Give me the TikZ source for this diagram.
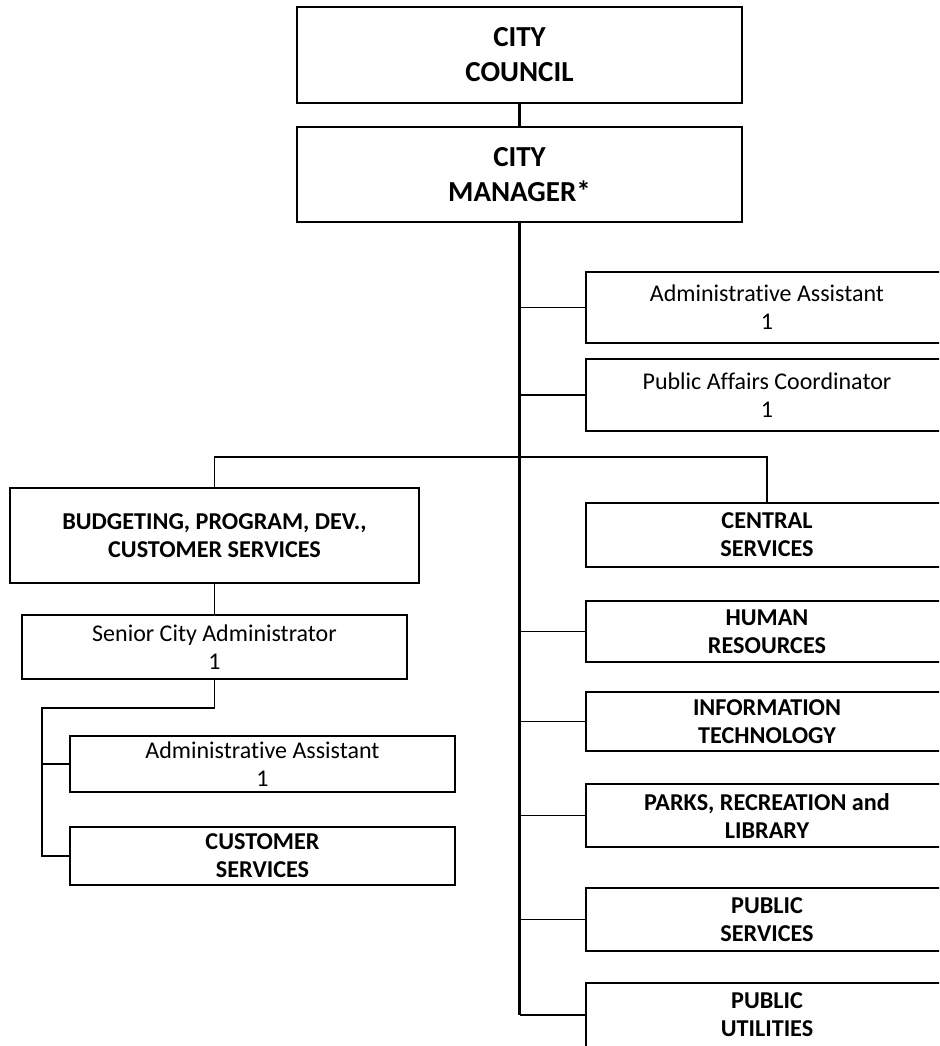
\documentclass[tikz,border=0pt]{standalone}
\usepackage{fontspec}
\setmainfont{Carlito}[Ligatures=NoCommon]
\begin{document}
\begin{tikzpicture}[x=1pt,y=-1pt,
  box/.style={draw, line width=2.4pt, rectangle, inner sep=0pt, align=center, anchor=center},
  titlebox/.style={box, font=\fontsize{29}{35}\selectfont\bfseries},
  deptbox/.style={box, font=\fontsize{24.2}{28}\selectfont\bfseries},
  staffbox/.style={box, font=\fontsize{24}{28}\selectfont},
  trunk/.style={line width=2.2pt},
  branch/.style={line width=1.4pt}]
\useasboundingbox (0,0) rectangle (939,1046);
\clip (0,0) rectangle (939,1046);
\fill[white] (0,0) rectangle (939,1046);

% top
\node[titlebox, minimum width=445pt, minimum height=96pt] (council) at (519.5,55) {CITY\\COUNCIL};
\node[titlebox, minimum width=445pt, minimum height=95pt] (manager) at (519.5,174.5) {CITY\\MANAGER*};

% right column
\node[staffbox, minimum width=362pt, minimum height=71pt] (aa1) at (767,307.5) {Administrative Assistant\\1};
\node[staffbox, minimum width=362pt, minimum height=72pt] (pac) at (767,395) {Public Affairs Coordinator\\1};
\node[deptbox, minimum width=362pt, minimum height=64pt] (central) at (767,535) {CENTRAL\\SERVICES};
\node[deptbox, minimum width=362pt, minimum height=61pt] (hr) at (767,631.5) {HUMAN\\RESOURCES};
\node[deptbox, minimum width=362pt, minimum height=59pt] (it) at (767,721.5) {INFORMATION\\TECHNOLOGY};
\node[deptbox, minimum width=362pt, minimum height=63pt] (parks) at (767,815.5) {PARKS, RECREATION and\\LIBRARY};
\node[deptbox, minimum width=362pt, minimum height=63pt] (pubserv) at (767,919.5) {PUBLIC\\SERVICES};
\node[deptbox, minimum width=362pt, minimum height=64pt] (pubutil) at (767,1015) {PUBLIC\\UTILITIES};

% left column
\node[deptbox, minimum width=409pt, minimum height=95pt] (budget) at (214.5,535.5) {BUDGETING, PROGRAM, DEV.,\\CUSTOMER SERVICES};
\node[staffbox, minimum width=385pt, minimum height=64pt] (senior) at (214.5,647) {Senior City Administrator\\1};
\node[staffbox, minimum width=385pt, minimum height=56pt] (aa2) at (262.5,764) {Administrative Assistant\\1};
\node[deptbox, minimum width=385pt, minimum height=58pt] (custserv) at (262.5,856) {CUSTOMER\\SERVICES};

\coordinate (bar) at (520,457);
\coordinate (sl) at (42,708);

% connectors
\draw[trunk] (council.south) -- (manager.north);
\draw[trunk] (manager.south) -- (manager.south |- pubutil.west);
\foreach \n in {aa1,pac,hr,it,parks,pubserv,pubutil}
  \draw[branch] (manager.south |- \n.west) -- (\n.west);
\draw[branch] (budget.north) -- (budget.north |- bar) -- (central.north |- bar) -- (central.north);
\draw[branch] (budget.south) -- (senior.north);
\draw[branch] (senior.south) -- (senior.south |- sl) -- (sl) -- (sl |- custserv.west) -- (custserv.west);
\draw[branch] (sl |- aa2.west) -- (aa2.west);
\end{tikzpicture}
\end{document}
